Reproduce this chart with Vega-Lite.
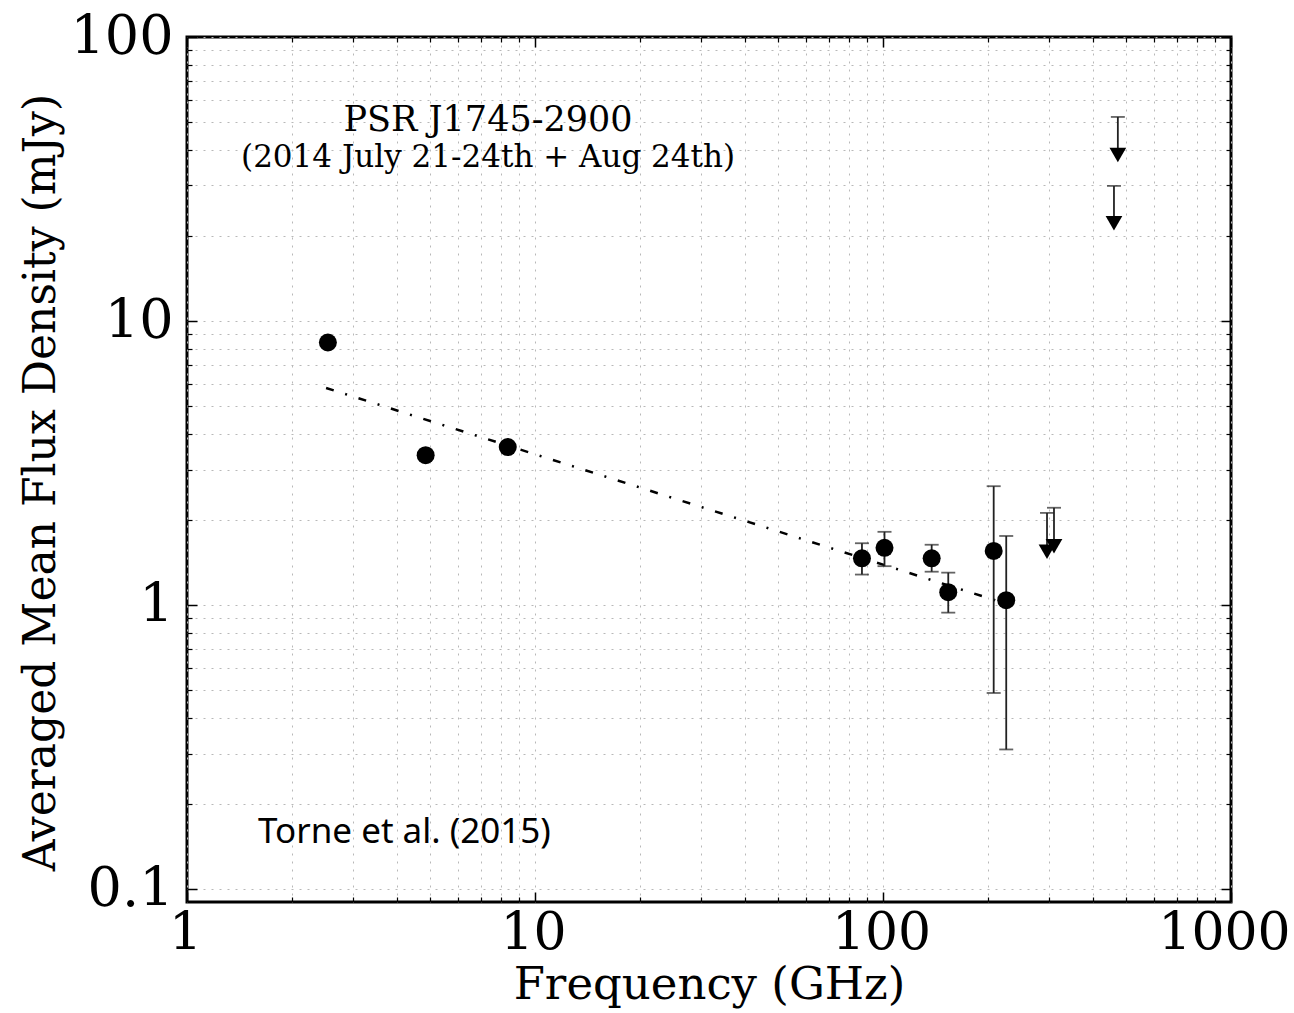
{
  "$schema": "https://vega.github.io/schema/vega-lite/v6.json",
  "width": 1044,
  "height": 865,
  "autosize": {"type": "none"},
  "padding": {"left": 187, "top": 37, "right": 63, "bottom": 111},
  "background": "white",
  "config": {
    "view": {"stroke": "black", "strokeWidth": 3},
    "axis": {
      "labelFont": "DejaVu Serif",
      "titleFont": "DejaVu Serif",
      "titleFontWeight": "normal",
      "labelColor": "black",
      "titleColor": "black",
      "domain": false
    }
  },
  "datasets": {
    "pts": [
      {"freq": 2.54, "flux": 8.4},
      {"freq": 4.85, "flux": 3.37},
      {"freq": 8.35, "flux": 3.6},
      {"freq": 87, "flux": 1.46, "lo": 1.28, "hi": 1.65},
      {"freq": 101, "flux": 1.59, "lo": 1.37, "hi": 1.81},
      {"freq": 138, "flux": 1.46, "lo": 1.31, "hi": 1.63},
      {"freq": 154, "flux": 1.11, "lo": 0.94, "hi": 1.3},
      {"freq": 208, "flux": 1.55, "lo": 0.49, "hi": 2.62},
      {"freq": 226, "flux": 1.04, "lo": 0.31, "hi": 1.75}
    ],
    "lims": [
      {"freq": 473, "limit": 52.3, "tip": 38.4},
      {"freq": 461, "limit": 29.9, "tip": 22.1},
      {"freq": 296, "limit": 2.11, "tip": 1.54},
      {"freq": 310, "limit": 2.2, "tip": 1.61}
    ],
    "fit": [
      {"freq": 2.51, "flux": 5.81},
      {"freq": 215, "flux": 1.03}
    ],
    "t1": [{"freq": 7.33, "flux": 51, "label": "PSR J1745-2900"}],
    "t2": [{"freq": 7.33, "flux": 37.5, "label": "(2014 July 21-24th + Aug 24th)"}],
    "t3": [{"freq": 1.6, "flux": 0.159, "label": "Torne et al. (2015)"}]
  },
  "resolve": {"axis": {"x": "independent", "y": "independent"}},
  "layer": [
    {
      "data": {"name": "fit"},
      "mark": {"type": "line", "color": "black", "strokeWidth": 2.5, "strokeDash": [8, 12, 2, 12]},
      "encoding": {
        "x": {"field": "freq", "type": "quantitative",
          "scale": {"type": "log", "domain": [1, 1000], "nice": false},
          "axis": {"orient": "bottom", "title": "Frequency (GHz)", "titleFontSize": 45, "titlePadding": 4,
            "labelFontSize": 52, "labelPadding": 5, "ticks": false, "labelFlush": false, "labelOverlap": false, "labelBound": false,
            "labelOffset": {"condition": {"test": "datum.value == 1000", "value": -7}, "value": -2},
            "format": "~g",
            "values": [1,2,3,4,5,6,7,8,9,10,20,30,40,50,60,70,80,90,100,200,300,400,500,600,700,800,900,1000],
            "labelExpr": "indexof([1, 10, 100, 1000], datum.value) >= 0 ? datum.label : ''",
            "grid": true, "gridColor": "#b8b8b8", "gridDash": [2, 6], "gridWidth": 1}},
        "y": {"field": "flux", "type": "quantitative",
          "scale": {"type": "log", "domain": [0.09, 100], "nice": false},
          "axis": {"orient": "left", "title": "Averaged Mean Flux Density (mJy)", "titleFontSize": 44, "titlePadding": 6, "titleY": 445,
            "labelFontSize": 54, "labelPadding": 14, "ticks": false, "labelFlush": false, "labelOverlap": false, "labelBound": false,
            "format": "~g",
            "values": [0.1,0.2,0.3,0.4,0.5,0.6,0.7,0.8,0.9,1,2,3,4,5,6,7,8,9,10,20,30,40,50,60,70,80,90,100],
            "labelExpr": "indexof([0.1, 1, 10, 100], datum.value) >= 0 ? datum.label : ''",
            "grid": true, "gridColor": "#b8b8b8", "gridDash": [2, 6], "gridWidth": 1}}
      }
    },
    {
      "data": {"name": "pts"},
      "transform": [{"filter": "isValid(datum.lo)"}],
      "mark": {"type": "rule", "color": "#222222", "strokeWidth": 1.8},
      "encoding": {
        "x": {"field": "freq", "type": "quantitative",
          "axis": {"orient": "bottom", "title": null, "labels": false, "grid": false, "tickSize": -10, "tickWidth": 1.5, "tickColor": "black",
            "values": [1, 10, 100, 1000]}},
        "y": {"field": "lo", "type": "quantitative",
          "axis": {"orient": "left", "title": null, "labels": false, "grid": false, "tickSize": -10, "tickWidth": 1.5, "tickColor": "black",
            "values": [0.1, 1, 10, 100]}},
        "y2": {"field": "hi"}
      }
    },
    {
      "data": {"name": "pts"},
      "transform": [{"filter": "isValid(datum.lo)"}],
      "mark": {"type": "tick", "orient": "horizontal", "color": "#222222", "thickness": 1.8, "size": 14},
      "encoding": {
        "x": {"field": "freq", "type": "quantitative",
          "axis": {"orient": "bottom", "title": null, "labels": false, "grid": false, "tickSize": -5, "tickWidth": 1.2, "tickColor": "black",
            "values": [2,3,4,5,6,7,8,9,20,30,40,50,60,70,80,90,200,300,400,500,600,700,800,900]}},
        "y": {"field": "lo", "type": "quantitative",
          "axis": {"orient": "left", "title": null, "labels": false, "grid": false, "tickSize": -5, "tickWidth": 1.2, "tickColor": "black",
            "values": [0.2,0.3,0.4,0.5,0.6,0.7,0.8,0.9,2,3,4,5,6,7,8,9,20,30,40,50,60,70,80,90]}}
      }
    },
    {
      "data": {"name": "pts"},
      "transform": [{"filter": "isValid(datum.hi)"}],
      "mark": {"type": "tick", "orient": "horizontal", "color": "#222222", "thickness": 1.8, "size": 14},
      "encoding": {
        "x": {"field": "freq", "type": "quantitative",
          "axis": {"orient": "top", "title": null, "labels": false, "grid": false, "tickSize": -10, "tickWidth": 1.5, "tickColor": "black",
            "values": [1, 10, 100, 1000]}},
        "y": {"field": "hi", "type": "quantitative",
          "axis": {"orient": "right", "title": null, "labels": false, "grid": false, "tickSize": -10, "tickWidth": 1.5, "tickColor": "black",
            "values": [0.1, 1, 10, 100]}}
      }
    },
    {
      "data": {"name": "pts"},
      "mark": {"type": "point", "shape": "circle", "filled": true, "color": "black", "opacity": 1, "size": 324},
      "encoding": {
        "x": {"field": "freq", "type": "quantitative",
          "axis": {"orient": "top", "title": null, "labels": false, "grid": false, "tickSize": -5, "tickWidth": 1.2, "tickColor": "black",
            "values": [2,3,4,5,6,7,8,9,20,30,40,50,60,70,80,90,200,300,400,500,600,700,800,900]}},
        "y": {"field": "flux", "type": "quantitative",
          "axis": {"orient": "right", "title": null, "labels": false, "grid": false, "tickSize": -5, "tickWidth": 1.2, "tickColor": "black",
            "values": [0.2,0.3,0.4,0.5,0.6,0.7,0.8,0.9,2,3,4,5,6,7,8,9,20,30,40,50,60,70,80,90]}}
      }
    },
    {
      "data": {"name": "lims"},
      "mark": {"type": "rule", "color": "#222222", "strokeWidth": 1.8},
      "encoding": {
        "x": {"field": "freq", "type": "quantitative", "axis": null},
        "y": {"field": "limit", "type": "quantitative", "axis": null},
        "y2": {"field": "tip"}
      }
    },
    {
      "data": {"name": "lims"},
      "mark": {"type": "tick", "orient": "horizontal", "color": "#222222", "thickness": 1.8, "size": 14},
      "encoding": {
        "x": {"field": "freq", "type": "quantitative", "axis": null},
        "y": {"field": "limit", "type": "quantitative", "axis": null}
      }
    },
    {
      "data": {"name": "lims"},
      "mark": {"type": "point", "shape": "triangle-down", "filled": true, "color": "black", "opacity": 1, "size": 280},
      "encoding": {
        "x": {"field": "freq", "type": "quantitative", "axis": null},
        "y": {"field": "tip", "type": "quantitative", "axis": null}
      }
    },
    {
      "data": {"name": "t1"},
      "mark": {"type": "text", "font": "DejaVu Serif", "fontSize": 35, "color": "black", "align": "center", "baseline": "middle"},
      "encoding": {
        "x": {"field": "freq", "type": "quantitative", "axis": null},
        "y": {"field": "flux", "type": "quantitative", "axis": null},
        "text": {"field": "label"}
      }
    },
    {
      "data": {"name": "t2"},
      "mark": {"type": "text", "font": "DejaVu Serif", "fontSize": 31, "color": "black", "align": "center", "baseline": "middle"},
      "encoding": {
        "x": {"field": "freq", "type": "quantitative", "axis": null},
        "y": {"field": "flux", "type": "quantitative", "axis": null},
        "text": {"field": "label"}
      }
    },
    {
      "data": {"name": "t3"},
      "mark": {"type": "text", "font": "Noto Sans", "fontSize": 35, "color": "black", "align": "left", "baseline": "middle"},
      "encoding": {
        "x": {"field": "freq", "type": "quantitative", "axis": null},
        "y": {"field": "flux", "type": "quantitative", "axis": null},
        "text": {"field": "label"}
      }
    }
  ]
}
